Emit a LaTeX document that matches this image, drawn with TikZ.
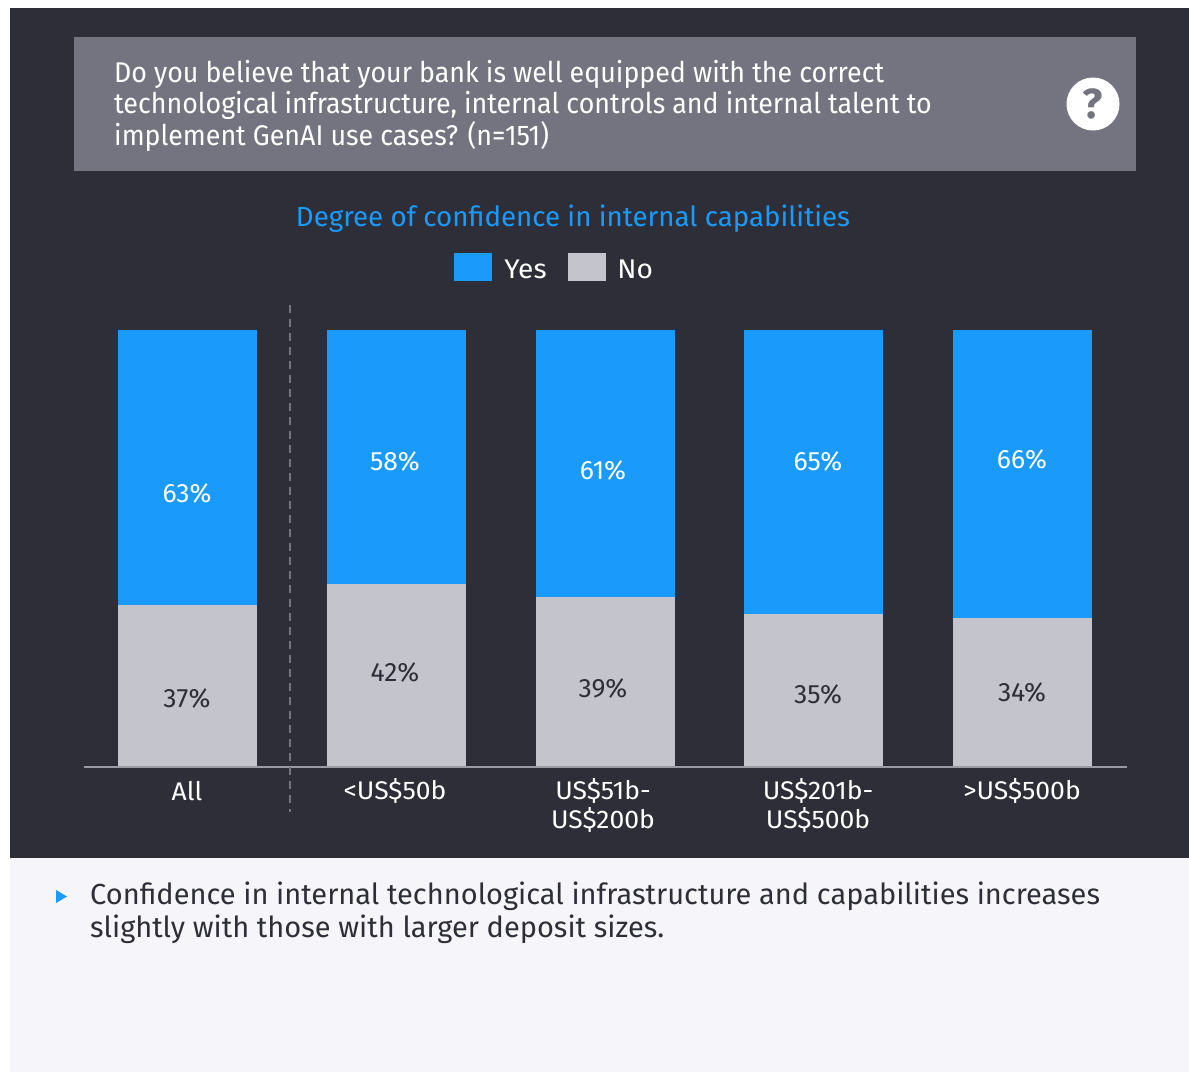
\documentclass[tikz,border=0pt]{standalone}
\usepackage{fontspec}
\setmainfont{Fira Sans}
\newfontfamily\qfont{Fira Sans}[FakeStretch=0.94]
\newfontfamily\wfont{Fira Sans}[FakeStretch=1.04]
\usetikzlibrary{positioning}

\definecolor{panel}{HTML}{2E2E38}
\definecolor{qgrey}{HTML}{747480}
\definecolor{yesblue}{HTML}{1A9BFC}
\definecolor{nogrey}{HTML}{C4C4CD}
\definecolor{axisgrey}{HTML}{9A9AA4}
\definecolor{notebg}{HTML}{F6F6FA}

\begin{document}
\begin{tikzpicture}[
		x=1pt, y=-1pt,
		yesbar/.style={fill=yesblue, inner sep=0pt, outer sep=0pt, minimum width=139pt, anchor=south},
		nobar/.style={fill=nogrey, inner sep=0pt, outer sep=0pt, minimum width=139pt, anchor=south},
		yeslab/.style={text=white, font=\fontsize{26.5}{28}\selectfont},
		nolab/.style={text=panel, font=\fontsize{26.5}{28}\selectfont},
		catlab/.style={text=white, align=center, font=\wfont\fontsize{25.5}{29}\selectfont, inner sep=0pt},
		key/.style={minimum width=38pt, minimum height=28pt, inner sep=0pt}
		]
		
		% ==========================================
		% BACKGROUND PANELS
		% ==========================================
		\useasboundingbox (0,0) rectangle (1189,1074);
		\fill[white] (0,0) rectangle (1189,1074);
		\fill[panel] (10,8) rectangle (1189,858);
		\fill[notebg] (10,858) rectangle (1189,1072);
		
		% ==========================================
		% QUESTION BOX
		% ==========================================
		\fill[qgrey] (74,37) rectangle (1136,171);
		\node[anchor=north west, inner sep=0pt, align=left, text=white,
		font=\qfont\fontsize{28.5}{31.5}\selectfont] (question) at (114,60)
		{Do you believe that your bank is well equipped with the correct\\
			technological infrastructure, internal controls and internal talent to\\
			implement GenAI use cases? (n=151)};
		\node[circle, fill=white, minimum size=53pt, inner sep=0pt, text=qgrey,
		font=\fontsize{42}{42}\selectfont\bfseries] (help) at (1093,104) {?};
		
		% ==========================================
		% TITLE AND LEGEND
		% ==========================================
		\node[text=yesblue, font=\fontsize{27.7}{30}\selectfont] (title) at (573,219)
		{Degree of confidence in internal capabilities};
		\node[key, fill=yesblue] (keyyes) at (473,267) {};
		\node[right=12pt of keyyes, yshift=-2pt, inner sep=0pt, text=white, font=\wfont\fontsize{27}{28}\selectfont] (yes) {Yes};
		\node[key, fill=nogrey] (keyno) at (587,267) {};
		\node[right=11pt of keyno, yshift=-2pt, inner sep=0pt, text=white, font=\wfont\fontsize{27}{28}\selectfont] (no) {No};
		
		% ==========================================
		% STACKED BARS
		% ==========================================
		\node[nobar, minimum height=161.7pt] (noall) at (187.5,767) {};
		\node[yesbar, minimum height=275.3pt, above=0pt of noall] (yesall) {};
		\node[nobar, minimum height=183.5pt] (nofifty) at (396.5,767) {};
		\node[yesbar, minimum height=253.5pt, above=0pt of nofifty] (yesfifty) {};
		\node[nobar, minimum height=170.4pt] (notwohundred) at (605.5,767) {};
		\node[yesbar, minimum height=266.6pt, above=0pt of notwohundred] (yestwohundred) {};
		\node[nobar, minimum height=153pt] (nofivehundred) at (813.5,767) {};
		\node[yesbar, minimum height=284pt, above=0pt of nofivehundred] (yesfivehundred) {};
		\node[nobar, minimum height=148.6pt] (noabove) at (1022.5,767) {};
		\node[yesbar, minimum height=288.4pt, above=0pt of noabove] (yesabove) {};
		
		% Percentages
		\node[yeslab] (pyesall) at (187,493) {63\%};
		\node[nolab] (pnoall) at (187,698) {37\%};
		\node[yeslab] (pyesfifty) at (395,461) {58\%};
		\node[nolab] (pnofifty) at (395,672) {42\%};
		\node[yeslab] (pyestwohundred) at (603,470) {61\%};
		\node[nolab] (pnotwohundred) at (603,688) {39\%};
		\node[yeslab] (pyesfivehundred) at (818,461) {65\%};
		\node[nolab] (pnofivehundred) at (818,694) {35\%};
		\node[yeslab] (pyesabove) at (1022,459) {66\%};
		\node[nolab] (pnoabove) at (1022,692) {34\%};
		
		% ==========================================
		% AXIS AND SEPARATOR
		% ==========================================
		\coordinate (axisleft) at (84,767);
		\coordinate (axisright) at (1127,767);
		\draw[axisgrey, line width=2pt] (axisleft) -- (axisright);
		\coordinate (septop) at (290,305);
		\coordinate (sepbottom) at (290,812);
		\draw[qgrey, line width=2pt, dash pattern=on 8pt off 6pt] (septop) -- (sepbottom);
		
		% Category labels
		\node[catlab] (catall) at (187,791) {All};
		\node[catlab] (catfifty) at (395,791) {<US\$50b};
		\node[catlab] (cattwohundred) at (603,805.5) {US\$51b-\\US\$200b};
		\node[catlab] (catfivehundred) at (818,805.5) {US\$201b-\\US\$500b};
		\node[catlab] (catabove) at (1022,791) {>US\$500b};
		
		% ==========================================
		% NOTE
		% ==========================================
		\fill[yesblue] (56,890) -- (67,896.5) -- (56,903) -- cycle;
		\node[anchor=north west, inner sep=0pt, align=left, text=panel,
		font=\fontsize{29}{33}\selectfont] (note) at (90,882)
		{Confidence in internal technological infrastructure and capabilities increases\\
			slightly with those with larger deposit sizes.};
		
	\end{tikzpicture}
\end{document}
